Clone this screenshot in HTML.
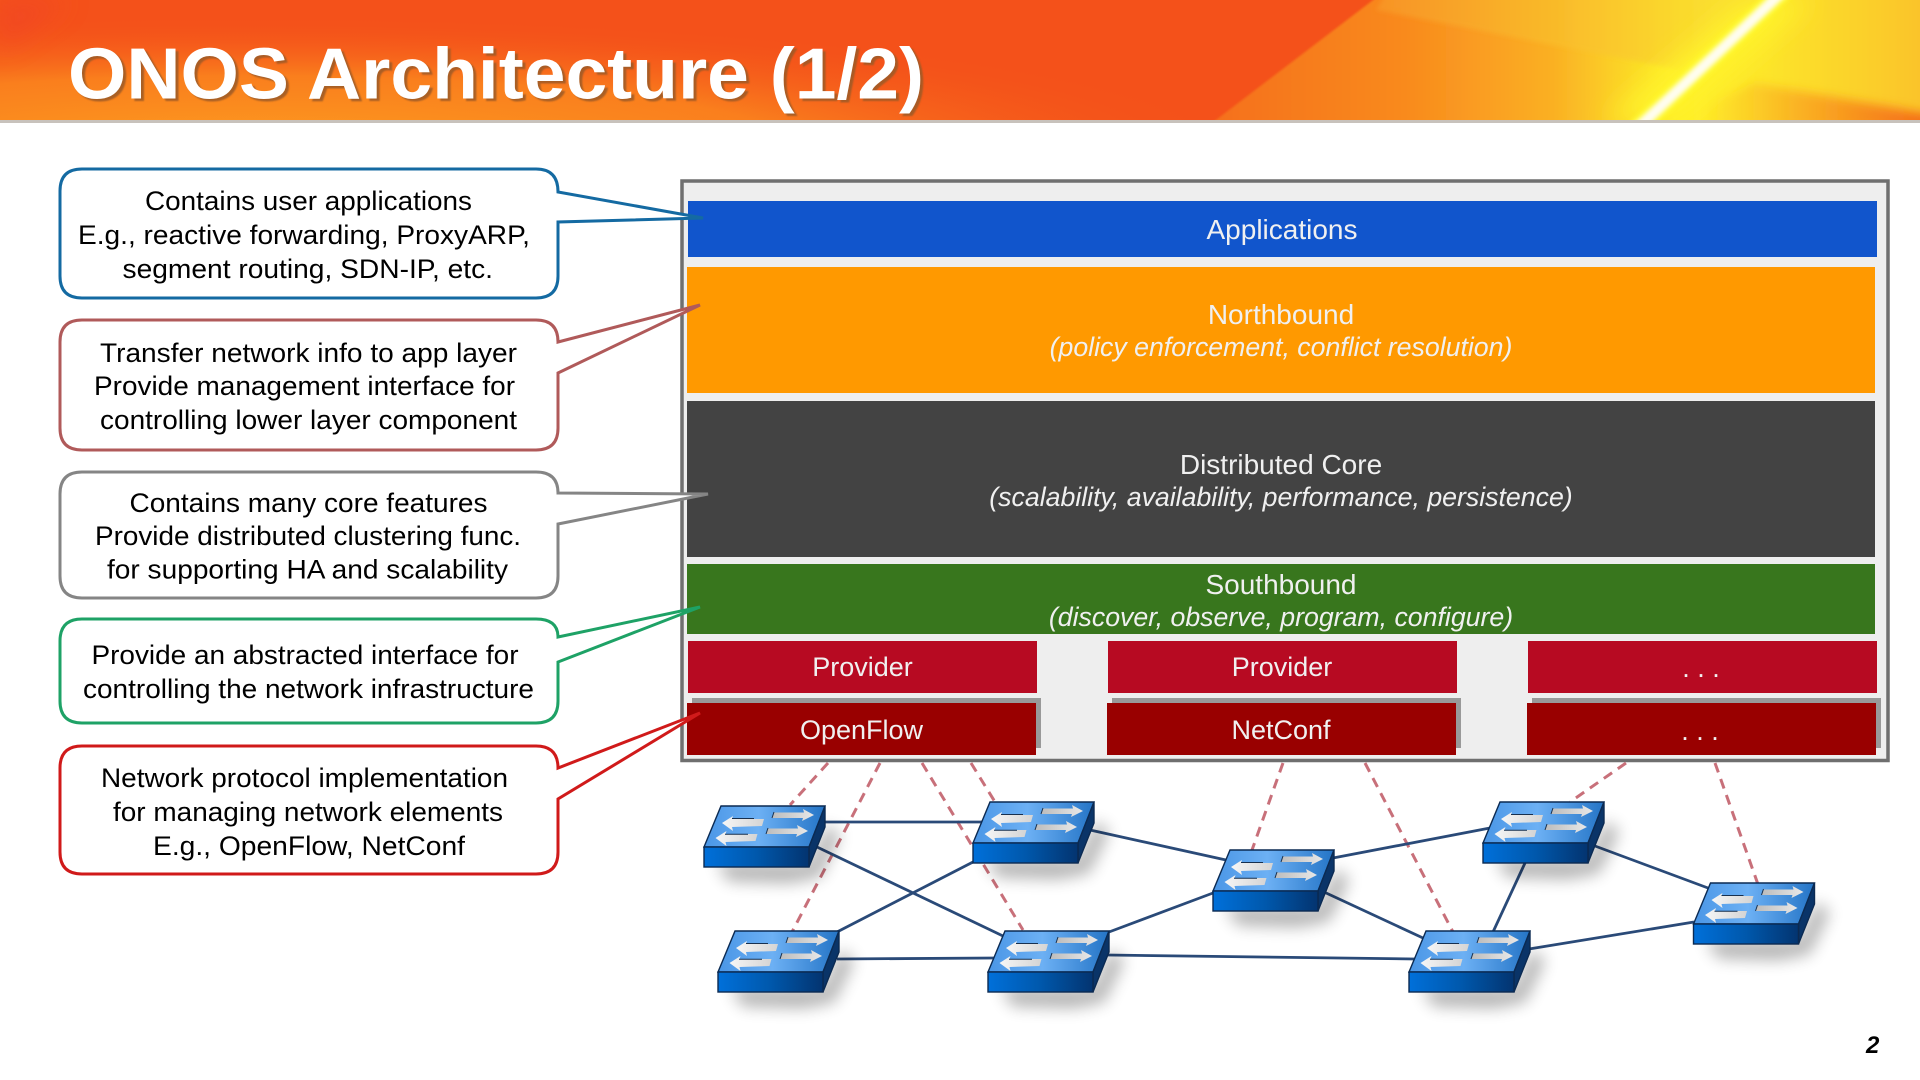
<!DOCTYPE html>
<html><head><meta charset="utf-8"><title>ONOS Architecture (1/2)</title>
<style>
html,body{margin:0;padding:0;background:#fff;width:1920px;height:1080px;overflow:hidden}
svg{display:block}
text{font-family:"Liberation Sans",sans-serif}
.t{font-size:27px;fill:#000}
.w{font-size:27px;fill:#f0f0f0;text-anchor:middle}
.h{font-size:28px}
.i{font-style:italic;font-size:26.700px}
.l{stroke:#2a4a78;stroke-width:2.800;fill:none}
.d{stroke:#c8707a;stroke-width:3;stroke-dasharray:10 7;fill:none}
.c{fill:#fff;stroke-width:3;stroke-linejoin:miter}
</style></head><body>
<svg width="1920" height="1080" viewBox="0 0 1920 1080" xmlns="http://www.w3.org/2000/svg">
<defs>
<clipPath id="hc"><rect width="1920" height="120"/></clipPath>
<radialGradient id="hg1" gradientUnits="userSpaceOnUse" cx="250" cy="150" r="1" gradientTransform="translate(250 150) scale(1000 135) translate(-250 -150)">
<stop offset="0" stop-color="#fd9f20"/><stop offset=".55" stop-color="#fb8a1e" stop-opacity=".8"/><stop offset="1" stop-color="#f4511a" stop-opacity="0"/></radialGradient>
<linearGradient id="hg2" gradientUnits="userSpaceOnUse" x1="1214" y1="0" x2="1920" y2="0">
<stop offset="0" stop-color="#f5701b"/><stop offset=".27" stop-color="#f98a1e"/><stop offset=".48" stop-color="#fab024"/><stop offset=".6" stop-color="#fbdc28"/><stop offset=".66" stop-color="#fff028"/><stop offset=".78" stop-color="#fde52c"/><stop offset="1" stop-color="#fac42c"/></linearGradient>
<linearGradient id="hg3" gradientUnits="userSpaceOnUse" x1="1380" y1="0" x2="1720" y2="0">
<stop offset="0" stop-color="#f89828"/><stop offset=".5" stop-color="#f9bc2c"/><stop offset="1" stop-color="#fadc30"/></linearGradient>
<linearGradient id="hg4" gradientUnits="userSpaceOnUse" x1="1700" y1="0" x2="1920" y2="0">
<stop offset="0" stop-color="#fbb020" stop-opacity="0"/><stop offset=".6" stop-color="#f9a020"/><stop offset="1" stop-color="#f57018"/></linearGradient>
<filter id="b12" x="-50%" y="-50%" width="200%" height="200%"><feGaussianBlur stdDeviation="13"/></filter>
<filter id="b3" x="-50%" y="-50%" width="200%" height="200%"><feGaussianBlur stdDeviation="2.5"/></filter>
<filter id="b7" x="-50%" y="-50%" width="200%" height="200%"><feGaussianBlur stdDeviation="8"/></filter>
<filter id="b1" x="-5%" y="-5%" width="110%" height="110%"><feGaussianBlur stdDeviation="1"/></filter>
<filter id="b5" x="-20%" y="-50%" width="140%" height="200%"><feGaussianBlur stdDeviation="5"/></filter>
<filter id="ts" x="-5%" y="-20%" width="110%" height="140%"><feGaussianBlur stdDeviation=".8"/></filter>
<linearGradient id="st" x1="0" y1="0" x2="1" y2="0"><stop offset="0" stop-color="#4a96e6"/><stop offset=".45" stop-color="#6cb0f4"/><stop offset="1" stop-color="#2474c6"/></linearGradient>
<linearGradient id="sf" x1="0" y1="0" x2="1" y2="0"><stop offset="0" stop-color="#0070da"/><stop offset=".5" stop-color="#0058ac"/><stop offset="1" stop-color="#033470"/></linearGradient>
<linearGradient id="aL" x1="0" y1="0" x2="1" y2="0"><stop offset="0" stop-color="#f6f6f6"/><stop offset="1" stop-color="#d4d4d4"/></linearGradient>
<linearGradient id="aR" x1="0" y1="0" x2="1" y2="0"><stop offset="0" stop-color="#bcbcbc"/><stop offset="1" stop-color="#e8e8e8"/></linearGradient>
<g id="sw">
<polygon points="12,16 105,16 123,-22 136,-12 116,30 85,36 25,34" fill="#000" opacity=".3" filter="url(#b7)"/>
<polygon points="17,-41 121,-41 105,0 0,0" fill="url(#st)" stroke="#0b2a52" stroke-width="1.4"/>
<polygon points="105,0 121,-41 121,-20 105,20" fill="#0a3468" stroke="#0b2a52" stroke-width="1.4"/>
<rect x="0" y="0" width="105" height="20" fill="url(#sf)" stroke="#0b2a52" stroke-width="1.4"/>
<polygon points="18,-24 29,-31 28,-28 60,-28 58,-21 28,-20 29,-16" fill="url(#aL)"/>
<polygon points="11.5,-8 22.5,-15 21.5,-12 53.5,-12 51.5,-5 21.5,-4 22.5,0" fill="url(#aL)" transform="translate(0,-1)"/>
<polygon points="70,-34.5 100,-34.5 99,-38 110,-32 98,-26 99,-29 68,-29" fill="url(#aR)"/>
<polygon points="64,-18.5 94,-18.5 93,-22 104,-16 92,-10 93,-13 62,-13" fill="url(#aR)"/>
<path d="M28,-28.5 H50 M21,-12.8 H44 M70,-35 L68,-29 M64,-19 L62,-13" stroke="#17304f" stroke-width="1" fill="none"/>
</g>
</defs>

<!-- header -->
<g clip-path="url(#hc)">
<rect width="1920" height="120" fill="#f4511a"/>
<rect width="1400" height="120" fill="url(#hg1)"/>
<polygon points="0,0 70,0 0,50" fill="#f0402a" opacity=".5" filter="url(#b12)"/>
<polygon points="1381,-6 1930,-6 1930,126 1208,126" fill="url(#hg2)" filter="url(#b1)"/>
<polygon points="1376,10 1386,-6 1770,-6 1680,70" fill="url(#hg3)" opacity=".8" filter="url(#b3)"/>
<polygon points="1754,83 1940,116 1940,130 1650,130" fill="url(#hg4)" filter="url(#b5)"/>
<polygon points="1745,0 1812,0 1675,120 1605,120" fill="#fff22a" filter="url(#b12)"/>
<polygon points="1765,-5 1793,-5 1655,125 1627,125" fill="#fff92a" filter="url(#b3)"/>
<polygon points="1771,-5 1787,-5 1649,125 1633,125" fill="#fffdf0" filter="url(#b3)"/>
</g>
<rect y="120" width="1920" height="3" fill="#c8c2bc"/>
<text x="71" y="101" font-size="72" font-weight="700" fill="#9c5a28" opacity=".85" textLength="856" lengthAdjust="spacingAndGlyphs" filter="url(#ts)">ONOS Architecture (1/2)</text>
<text x="68" y="98.500" font-size="72" font-weight="700" fill="#fff" textLength="856" lengthAdjust="spacingAndGlyphs">ONOS Architecture (1/2)</text>

<!-- panel -->
<rect x="682" y="181" width="1206" height="579.5" fill="#eeeeee" stroke="#6f6f6f" stroke-width="3.5"/>
<rect x="688" y="201" width="1189" height="56" fill="#1155cc"/>
<rect x="687" y="267" width="1188" height="126" fill="#ff9900"/>
<rect x="687" y="401" width="1188" height="156" fill="#434343"/>
<rect x="687" y="564" width="1188" height="70" fill="#38761d"/>
<rect x="688" y="641" width="349" height="52" fill="#b70a22"/>
<rect x="1108" y="641" width="349" height="52" fill="#b70a22"/>
<rect x="1528" y="641" width="349" height="52" fill="#b70a22"/>
<rect x="692" y="698" width="349" height="50" fill="#999"/>
<rect x="1112" y="698" width="349" height="50" fill="#999"/>
<rect x="1532" y="698" width="349" height="50" fill="#999"/>
<rect x="687" y="703" width="349" height="52" fill="#990000"/>
<rect x="1107" y="703" width="349" height="52" fill="#990000"/>
<rect x="1527" y="703" width="349" height="52" fill="#990000"/>

<text class="w h" x="1282" y="239">Applications</text>
<text class="w h" x="1281" y="324">Northbound</text>
<text class="w i" x="1281" y="356">(policy enforcement, conflict resolution)</text>
<text class="w h" x="1281" y="474">Distributed Core</text>
<text class="w i" x="1281" y="506">(scalability, availability, performance, persistence)</text>
<text class="w h" x="1281" y="594">Southbound</text>
<text class="w i" x="1281" y="626">(discover, observe, program, configure)</text>
<text class="w" x="862.500" y="676">Provider</text>
<text class="w" x="1282" y="676">Provider</text>
<text class="w" x="1701" y="677">. . .</text>
<text class="w" x="861.500" y="739">OpenFlow</text>
<text class="w" x="1281" y="739">NetConf</text>
<text class="w" x="1700" y="740">. . .</text>

<!-- links -->
<path class="d" d="M828,763 L790,805"/>
<path class="d" d="M880,763 L792,932"/>
<path class="d" d="M922,763 L1023,930"/>
<path class="d" d="M971,763 L995,802"/>
<path class="d" d="M1283,763 L1252,850"/>
<path class="d" d="M1365,763 L1453,932"/>
<path class="d" d="M1626,763 L1570,802"/>
<path class="d" d="M1715,763 L1757.500,883"/>

<path class="l" d="M825,822 L982,822"/>
<path class="l" d="M817,847 L1003,936"/>
<path class="l" d="M837,932 L973,862"/>
<path class="l" d="M837,959 L994,958"/>
<path class="l" d="M1090,830 L1226,860"/>
<path class="l" d="M1109,932 L1213,893"/>
<path class="l" d="M1107,955 L1415,959"/>
<path class="l" d="M1333,858 L1490,828"/>
<path class="l" d="M1324,892 L1423,938"/>
<path class="l" d="M1525,863 L1493,932"/>
<path class="l" d="M1595,846 L1708,888"/>
<path class="l" d="M1529,949 L1694,922"/>

<use href="#sw" x="704" y="847"/>
<use href="#sw" x="973" y="843"/>
<use href="#sw" x="718" y="972"/>
<use href="#sw" x="988" y="972"/>
<use href="#sw" x="1213" y="891"/>
<use href="#sw" x="1483" y="843"/>
<use href="#sw" x="1409" y="972"/>
<use href="#sw" x="1693.500" y="924"/>

<!-- callouts -->
<path class="c" stroke="#146aa2" d="M82,169 H536 Q558,169 558,192 L703,218 L558,222 V276 Q558,298 536,298 H82 Q60,298 60,276 V191 Q60,169 82,169 Z"/>
<path class="c" stroke="#b05a5a" d="M82,320 H536 Q558,320 558,342 L700,305 L558,373 V428 Q558,450 536,450 H82 Q60,450 60,428 V342 Q60,320 82,320 Z"/>
<path class="c" stroke="#858585" d="M82,472 H536 Q558,472 558,493 L708,494 L558,524 V576 Q558,598 536,598 H82 Q60,598 60,576 V494 Q60,472 82,472 Z"/>
<path class="c" stroke="#1ea266" d="M82,619 H536 Q558,619 558,637 L700,607 L558,662 V701 Q558,723 536,723 H82 Q60,723 60,701 V641 Q60,619 82,619 Z"/>
<path class="c" stroke="#d01a1a" d="M82,746 H536 Q558,746 558,768 L700,713 L558,799 V852 Q558,874 536,874 H82 Q60,874 60,852 V768 Q60,746 82,746 Z"/>

<text class="t" x="145" y="210" textLength="327" lengthAdjust="spacingAndGlyphs">Contains user applications</text>
<text class="t" x="78" y="244" textLength="452" lengthAdjust="spacingAndGlyphs">E.g., reactive forwarding, ProxyARP,</text>
<text class="t" x="122.500" y="278" textLength="370.500" lengthAdjust="spacingAndGlyphs">segment routing, SDN-IP, etc.</text>

<text class="t" x="100" y="362" textLength="417" lengthAdjust="spacingAndGlyphs">Transfer network info to app layer</text>
<text class="t" x="94" y="395" textLength="421" lengthAdjust="spacingAndGlyphs">Provide management interface for</text>
<text class="t" x="100" y="429" textLength="417" lengthAdjust="spacingAndGlyphs">controlling lower layer component</text>

<text class="t" x="129.500" y="512" textLength="358" lengthAdjust="spacingAndGlyphs">Contains many core features</text>
<text class="t" x="95" y="545" textLength="426" lengthAdjust="spacingAndGlyphs">Provide distributed clustering func.</text>
<text class="t" x="107" y="578.500" textLength="401" lengthAdjust="spacingAndGlyphs">for supporting HA and scalability</text>

<text class="t" x="91.500" y="664" textLength="427" lengthAdjust="spacingAndGlyphs">Provide an abstracted interface for</text>
<text class="t" x="83" y="698" textLength="451" lengthAdjust="spacingAndGlyphs">controlling the network infrastructure</text>

<text class="t" x="101" y="787" textLength="407" lengthAdjust="spacingAndGlyphs">Network protocol implementation</text>
<text class="t" x="113" y="821" textLength="390" lengthAdjust="spacingAndGlyphs">for managing network elements</text>
<text class="t" x="153" y="855" textLength="312" lengthAdjust="spacingAndGlyphs">E.g., OpenFlow, NetConf</text>

<text x="1866" y="1053" font-size="24" font-weight="700" font-style="italic" fill="#000">2</text>
</svg>
</body></html>
